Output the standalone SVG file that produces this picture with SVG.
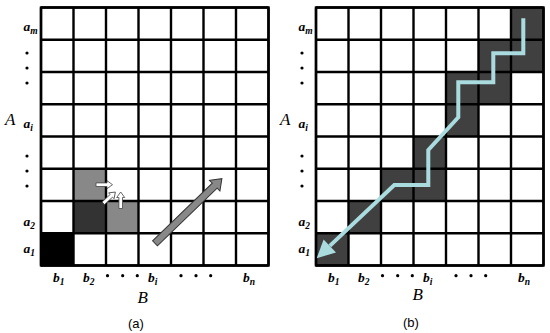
<svg xmlns="http://www.w3.org/2000/svg" width="550" height="333" viewBox="0 0 550 333">
<style>
.grid{fill:none;stroke:#000;stroke-width:2.4}
.lbl{font-family:"Liberation Serif",serif;font-style:italic;font-weight:bold;font-size:13.5px;fill:#000}
.sub{font-size:9.5px}
.ax{font-family:"Liberation Serif",serif;font-style:italic;font-size:17px;fill:#000}
.cap{font-family:"Liberation Sans",sans-serif;font-size:13px;fill:#000}
.dark{fill:#404040}
</style>
<defs>
<path id="sa" d="M0,-1.8 L11,-1.8 L11,-4 L16.5,0 L11,4 L11,1.8 L0,1.8Z" fill="#fff" stroke="#444" stroke-width="0.8"/>
<circle id="dot" r="1.6" fill="#000"/>
</defs>
<rect width="550" height="333" fill="#fff"/>

<g id="panel-a">
<g id="a-cells">
<rect x="41" y="233.25" width="32.5" height="32.25" fill="#000"/>
<rect x="73.5" y="201" width="32.5" height="32.25" fill="#333"/>
<rect x="73.5" y="168.75" width="32.5" height="32.25" fill="#888"/>
<rect x="106" y="201" width="32.5" height="32.25" fill="#888"/>
</g>
<path class="grid" d="M41,7.5V265.5M73.5,7.5V265.5M106,7.5V265.5M138.5,7.5V265.5M171,7.5V265.5M203.5,7.5V265.5M236,7.5V265.5M268.5,7.5V265.5M41,7.5H268.5M41,39.75H268.5M41,72H268.5M41,104.25H268.5M41,136.5H268.5M41,168.75H268.5M41,201H268.5M41,233.25H268.5M41,265.5H268.5"/>
<rect class="grid" x="41" y="7.5" width="227.5" height="258" stroke-width="2.8"/>
<g id="a-small-arrows">
<use href="#sa" transform="translate(96,184.7)"/>
<use href="#sa" transform="translate(103.3,203.3) rotate(-43)"/>
<use href="#sa" transform="translate(120.7,208.5) rotate(-90)"/>
</g>
<g id="a-big-arrow">
<polygon points="0,-3.5 83,-3.5 83,-7.5 93,0 83,7.5 83,3.5 0,3.5" fill="#888" stroke="#333" stroke-width="1" transform="translate(155,243.3) rotate(-44)"/>
</g>
<g id="a-labels">
<text class="lbl" x="23.5" y="31">a<tspan class="sub" dy="3">m</tspan></text>
<use href="#dot" x="27" y="53"/><use href="#dot" x="27" y="68"/><use href="#dot" x="27" y="83"/>
<text class="ax" x="5" y="125">A</text>
<text class="lbl" x="23.5" y="128">a<tspan class="sub" dy="3">i</tspan></text>
<use href="#dot" x="27" y="156"/><use href="#dot" x="27" y="171"/><use href="#dot" x="27" y="186"/>
<text class="lbl" x="23.5" y="226">a<tspan class="sub" dy="3">2</tspan></text>
<text class="lbl" x="23.5" y="252.5">a<tspan class="sub" dy="3">1</tspan></text>
<text class="lbl" x="53" y="282">b<tspan class="sub" dy="3">1</tspan></text>
<text class="lbl" x="83" y="282">b<tspan class="sub" dy="3">2</tspan></text>
<use href="#dot" x="107.5" y="275.7"/><use href="#dot" x="122.7" y="275.7"/><use href="#dot" x="137.3" y="275.7"/>
<text class="lbl" x="148" y="282">b<tspan class="sub" dy="3">i</tspan></text>
<use href="#dot" x="181" y="275.7"/><use href="#dot" x="196" y="275.7"/><use href="#dot" x="210.7" y="275.7"/>
<text class="lbl" x="243" y="282">b<tspan class="sub" dy="3">n</tspan></text>
<text class="ax" x="137.5" y="303">B</text>
<text class="cap" x="128" y="328">(a)</text>
</g>
</g>

<g id="panel-b">
<g id="b-cells">
<rect class="dark" x="511" y="7.5" width="32.5" height="32.25"/>
<rect class="dark" x="478.5" y="39.75" width="65" height="32.25"/>
<rect class="dark" x="446" y="72" width="65" height="32.25"/>
<rect class="dark" x="446" y="104.25" width="32.5" height="32.25"/>
<rect class="dark" x="413.5" y="136.5" width="32.5" height="32.25"/>
<rect class="dark" x="381" y="168.75" width="65" height="32.25"/>
<rect class="dark" x="348.5" y="201" width="32.5" height="32.25"/>
<rect class="dark" x="316" y="233.25" width="32.5" height="32.25"/>
</g>
<path class="grid" d="M316,7.5V265.5M348.5,7.5V265.5M381,7.5V265.5M413.5,7.5V265.5M446,7.5V265.5M478.5,7.5V265.5M511,7.5V265.5M543.5,7.5V265.5M316,7.5H543.5M316,39.75H543.5M316,72H543.5M316,104.25H543.5M316,136.5H543.5M316,168.75H543.5M316,201H543.5M316,233.25H543.5M316,265.5H543.5"/>
<rect class="grid" x="316" y="7.5" width="227.5" height="258" stroke-width="2.8"/>
<g id="b-path">
<polyline points="523.3,18.3 523.3,53.3 493.3,53.3 493.3,82.3 458.3,82.3 458.3,117.3 428.3,150 428.3,185 394.3,185 329.8,245.9" fill="none" stroke="#aadcdf" stroke-width="4" stroke-linejoin="miter"/>
<polygon points="316.7,258.3 323.6,239.4 336,252.4" fill="#aadcdf"/>
</g>
<g id="b-labels">
<text class="lbl" x="298.5" y="31">a<tspan class="sub" dy="3">m</tspan></text>
<use href="#dot" x="302" y="53"/><use href="#dot" x="302" y="68"/><use href="#dot" x="302" y="83"/>
<text class="ax" x="280" y="125">A</text>
<text class="lbl" x="298.5" y="128">a<tspan class="sub" dy="3">i</tspan></text>
<use href="#dot" x="302" y="156"/><use href="#dot" x="302" y="171"/><use href="#dot" x="302" y="186"/>
<text class="lbl" x="298.5" y="226">a<tspan class="sub" dy="3">2</tspan></text>
<text class="lbl" x="298.5" y="252.5">a<tspan class="sub" dy="3">1</tspan></text>
<text class="lbl" x="328" y="282">b<tspan class="sub" dy="3">1</tspan></text>
<text class="lbl" x="358" y="282">b<tspan class="sub" dy="3">2</tspan></text>
<use href="#dot" x="382.5" y="275.7"/><use href="#dot" x="397.7" y="275.7"/><use href="#dot" x="412.3" y="275.7"/>
<text class="lbl" x="423" y="282">b<tspan class="sub" dy="3">i</tspan></text>
<use href="#dot" x="456" y="275.7"/><use href="#dot" x="471" y="275.7"/><use href="#dot" x="485.7" y="275.7"/>
<text class="lbl" x="518" y="282">b<tspan class="sub" dy="3">n</tspan></text>
<text class="ax" x="412.5" y="300">B</text>
<text class="cap" x="403" y="327">(b)</text>
</g>
</g>
</svg>
